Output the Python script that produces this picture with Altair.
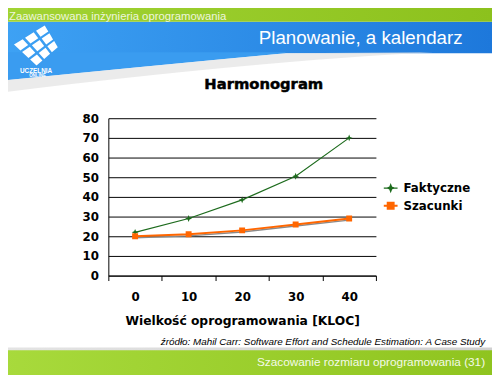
import altair as alt
import pandas as pd

# ---------------- data ----------------
kloc = ["0", "10", "20", "30", "40"]
faktyczne = [22, 29, 38.5, 50.5, 70]
szacunki = [20, 21, 23, 26, 29]
series_names = ["Faktyczne", "Szacunki"]
series_colors = ["#1d6b1d", "#ff6600"]
y_ticks = [0, 10, 20, 30, 40, 50, 60, 70, 80]

header_text = "Zaawansowana inżynieria oprogramowania"
slide_title = "Planowanie, a kalendarz"
chart_title = "Harmonogram"
x_title = "Wielkość oprogramowania [KLOC]"
source_text = "źródło: Mahil Carr: Software Effort and Schedule Estimation: A Case Study"
footer_text = "Szacowanie rozmiaru oprogramowania (31)"
logo_words = ["UCZELNIA", "ONLINE"]

rows = []
for k, f, s in zip(kloc, faktyczne, szacunki):
    rows.append({"kloc": k, "series": series_names[0], "value": f})
    rows.append({"kloc": k, "series": series_names[1], "value": s})
df = pd.DataFrame(rows)

# ---------------- layout (page pixels) ----------------
PW, PH = 272, 160          # plot area
OX, OY = 110, 117          # plot origin on the page
PAGE = 8
pad = {"left": OX - PAGE, "top": OY - PAGE,
       "right": 500 - OX - PW, "bottom": 375 - OY - PH}

one = pd.DataFrame({"k": [0]})


def rx(X):
    return X - OX


def ry(Y):
    return Y - OY


def hgrad(c1, c2):
    return alt.LinearGradient(
        gradient="linear",
        stops=[alt.GradientStop(color=c1, offset=0), alt.GradientStop(color=c2, offset=1)],
        x1=0, x2=1, y1=0, y2=0)


def band(x1, y1, x2, y2, fill):
    return alt.Chart(one).mark_rect(fill=fill, opacity=1).encode(
        x=alt.value(rx(x1)), x2=alt.value(rx(x2)), y=alt.value(ry(y1)), y2=alt.value(ry(y2)))


def label(X, Y, s, size, color="black", align="left", font="Liberation Sans",
          weight="normal", style="normal", stroke=None, sw=0.4):
    kw = dict(text=s, fontSize=size, color=color, align=align, baseline="alphabetic",
              font=font, fontWeight=weight, fontStyle=style)
    if stroke:
        kw.update(stroke=stroke, strokeWidth=sw)
    return alt.Chart(one).mark_text(**kw).encode(x=alt.value(rx(X)), y=alt.value(ry(Y)))


def fmt(v):
    s = f"{v:.4f}".rstrip("0").rstrip(".")
    return "0" if s in ("-0", "") else s


def path_from(cmds, cx, cy, r):
    out = []
    for c, pts in cmds:
        coords = [f"{fmt((pts[i] - cx) / r)},{fmt((pts[i + 1] - cy) / r)}" for i in range(0, len(pts), 2)]
        out.append(c + " ".join(coords))
    return "".join(out)


def blob(cmds, cx, cy, r, fill, opacity=1.0):
    return alt.Chart(one).mark_point(
        shape=path_from(cmds, cx, cy, r), size=4 * r * r, filled=True, fill=fill,
        strokeWidth=0, opacity=opacity).encode(x=alt.value(rx(cx)), y=alt.value(ry(cy)))


# ---------------- slide decoration ----------------
curve = [("M", [0, 50]), ("L", [290, 50]), ("L", [290, 51]), ("Q", [140, 65, 0, 79]), ("Z", [])]
swoosh = [("M", [0, 79]), ("Q", [140, 65, 290, 51]), ("L", [440, 50]), ("Q", [260, 59, 0, 91]), ("Z", [])]

T, R, B, L = (46, 21), (60, 45), (37, 65), (12, 42)


def bil(u, v):
    return ((1 - u) * (1 - v) * T[0] + u * (1 - v) * R[0] + u * v * B[0] + (1 - u) * v * L[0],
            (1 - u) * (1 - v) * T[1] + u * (1 - v) * R[1] + u * v * B[1] + (1 - u) * v * L[1])


logo_cmds = []
n = 3
for i in range(n):
    for j in range(n):
        cs = [bil(i / n, j / n), bil((i + 1) / n, j / n), bil((i + 1) / n, (j + 1) / n), bil(i / n, (j + 1) / n)]
        mx = sum(p[0] for p in cs) / 4
        my = sum(p[1] for p in cs) / 4
        cs = [(mx + (p[0] - mx) * 0.78, my + (p[1] - my) * 0.78) for p in cs]
        logo_cmds += [("M", list(cs[0])), ("L", list(cs[1])), ("L", list(cs[2])), ("L", list(cs[3])), ("Z", [])]

decor = [
    band(0, 19, 500, 51, hgrad("#3ea2f4", "#1d78db")),
    blob(curve, 150, 64, 150, "#3a9cf0"),
    blob(swoosh, 150, 64, 150, "#e2e2e2", 0.7),
    band(0, 0, 500, 19, hgrad("#a2d434", "#8cc11d")),
    band(0, 350, 500, 354, hgrad("#e4e4e4", "#d0d0d0")),
    band(0, 353, 500, 380, hgrad("#a8da3c", "#8fc41f")),
    blob(logo_cmds, 36, 43, 30, "white"),
    label(36.5, 71, logo_words[0], 6.5, "white", "center", weight="bold"),
    label(38, 75, logo_words[1], 4.5, "white", "center", weight="bold"),
    label(9, 17, header_text, 11.5, "#eef6dd"),
    label(470, 42, slide_title, 19, "white", "right"),
    label(268, 87, chart_title, 15, "black", "center", font="DejaVu Sans", weight="bold", stroke="black", sw=0.5),
    label(493, 348, source_text, 10, "black", "right", style="italic"),
    label(493, 369, footer_text, 12, "#f4fae8", "right"),
]

# ---------------- chart ----------------
star = "M-1,0H1M-0.5,0L-0.14,-0.14L0,-0.5L0.14,-0.14L0.5,0L0.14,0.14L0,0.5L-0.14,0.14Z"
square = "M-1,0H1M-0.43,-0.43H0.43V0.43H-0.43Z"

x_enc = alt.X(
    "kloc:O", sort=kloc, bandPosition=0.5,
    scale=alt.Scale(type="band", paddingInner=0, paddingOuter=0),
    axis=alt.Axis(title=x_title, tickBand="extent", labelAngle=0, ticks=True, tickSize=5,
                  tickColor="black", tickWidth=1, domainColor="black", domainWidth=1,
                  labelFont="DejaVu Sans", labelFontWeight="bold", labelFontSize=12,
                  labelColor="black", labelPadding=11, titleFont="DejaVu Sans",
                  titleFontWeight="bold", titleFontSize=12.5, titleColor="black",
                  titleY=50, titleBaseline="alphabetic", grid=False))
y_scale = alt.Scale(domain=[0, 80], nice=False, zero=True)
y_axis = alt.Axis(values=y_ticks, title=None, grid=True, gridColor="black", gridOpacity=1,
                  gridWidth=1, ticks=False, tickSize=0, domainColor="black", domainWidth=1,
                  labelFont="DejaVu Sans", labelFontWeight="bold", labelFontSize=12,
                  labelColor="black", labelPadding=10)
y_enc = alt.Y("value:Q", scale=y_scale, axis=y_axis)
leg = alt.Legend(title=None, orient="none", legendX=279, legendY=63, labelFont="DejaVu Sans",
                 labelFontWeight="bold", labelFontSize=12, labelColor="black", symbolSize=196,
                 symbolStrokeWidth=1.5, rowPadding=4, labelOffset=5, padding=0)
color_enc = alt.Color("series:N", scale=alt.Scale(domain=series_names, range=series_colors), legend=leg)

base = alt.Chart(df)
shadow = base.transform_filter(alt.datum.series == series_names[1]).transform_calculate(
    sh="datum.value - 0.8").mark_line(color="#8a8a8a", strokeWidth=1.5).encode(
    x=x_enc, y=alt.Y("sh:Q", scale=y_scale, axis=y_axis))
lines = base.mark_line().encode(
    x=x_enc, y=y_enc, color=color_enc,
    strokeWidth=alt.StrokeWidth("series:N", scale=alt.Scale(domain=series_names, range=[1.2, 2.0]), legend=None))
points = base.mark_point(filled=True, opacity=1, size=196).encode(
    x=x_enc, y=y_enc, color=color_enc,
    shape=alt.Shape("series:N", scale=alt.Scale(domain=series_names, range=[star, square]), legend=leg))

chart = alt.layer(*decor, shadow, lines, points).properties(
    width=PW, height=PH, autosize=alt.AutoSizeParams(type="none"), padding=pad,
    background="white").configure_view(stroke="transparent")

chart.save("out.html", embed_options={"renderer": "svg", "actions": False})
